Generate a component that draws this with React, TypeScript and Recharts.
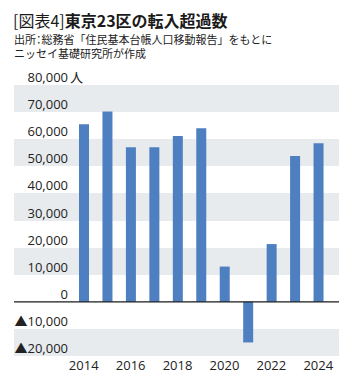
import { BarChart, Bar, XAxis, YAxis, CartesianGrid, ReferenceLine } from 'recharts';

// 東京23区の転入超過数（人）
const years = ['2014', '2015', '2016', '2017', '2018', '2019', '2020', '2021', '2022', '2023', '2024'];
const netInflow = [65500, 70200, 57000, 57000, 61200, 64000, 13000, -15000, 21300, 53800, 58500];

const yTicks = [-20000, -10000, 0, 10000, 20000, 30000, 40000, 50000, 60000, 70000, 80000];
// grey stripes behind the bars (from, to)
const bandFrom = [70000, 50000, 30000, 10000, -20000];
const bandTo = [80000, 60000, 40000, 20000, -10000];

const data = years.map((y, i) => ({ year: y, value: netInflow[i] }));

// stripe colours, top to bottom between consecutive ticks
const ticksDesc = [...yTicks].sort((a, b) => b - a);
const stripeFill = ticksDesc.map((t, i) => {
  const next = ticksDesc[i + 1];
  if (next === undefined) return 'none';
  const grey = bandFrom.some((f, j) => f === next && bandTo[j] === t);
  return grey ? '#e8ebee' : '#ffffff';
});

const NUM_FONT = '"Open Sans", "Noto Sans CJK JP", sans-serif';
const JP_FONT = '"Noto Sans CJK JP", sans-serif';

const fmt = (v: number) => (v < 0 ? '▲' + Math.abs(v).toLocaleString('en-US') : v.toLocaleString('en-US'));

const YTick = (props: any) => {
  const { y, payload } = props;
  const v = payload.value as number;
  return (
    <g>
      <text x={68} y={y - 3} textAnchor="end" fontSize={13} fontFamily={NUM_FONT} fill="#222">
        {fmt(v)}
      </text>
      {v === 80000 && (
        <text x={70} y={y - 3} textAnchor="start" fontSize={13} fontFamily={JP_FONT} fill="#222">
          人
        </text>
      )}
    </g>
  );
};

const XTick = (props: any) => {
  const { x, y, payload } = props;
  return (
    <text x={x} y={y + 13.5} textAnchor="middle" fontSize={13} fontFamily={NUM_FONT} fill="#222">
      {payload.value}
    </text>
  );
};

export default function App() {
  return (
    <div style={{ position: 'absolute', left: 0, top: 0, width: 354, height: 385, background: '#fff' }}>
      <div style={{ position: 'absolute', left: 13, top: 11, fontFamily: JP_FONT, fontSize: 16, lineHeight: '18px', color: '#1a1a1a', whiteSpace: 'nowrap' }}>
        <span style={{ fontWeight: 400 }}>[図表4]</span>
        <span style={{ fontWeight: 700 }}>東京23区の転入超過数</span>
      </div>
      <div style={{ position: 'absolute', left: 14, top: 32, fontFamily: JP_FONT, fontSize: 11, lineHeight: '14px', color: '#222', whiteSpace: 'nowrap' }}>
        出所<span style={{ fontFeatureSettings: '"palt"' }}>：</span>総務省「住民基本台帳人口移動報告」をもとに
      </div>
      <div style={{ position: 'absolute', left: 14, top: 46, fontFamily: JP_FONT, fontSize: 11, lineHeight: '14px', color: '#222', whiteSpace: 'nowrap' }}>
        ニッセイ基礎研究所が作成
      </div>
      <div style={{ position: 'absolute', left: 0, top: 0 }}>
        <BarChart width={354} height={385} data={data} margin={{ top: 85, right: 15, bottom: 9, left: 14 }}>
          <CartesianGrid vertical={false} horizontal stroke="none" horizontalFill={stripeFill} fillOpacity={1} />
          <XAxis
            dataKey="year"
            height={20}
            axisLine={false}
            tickLine={false}
            tickSize={0}
            tickMargin={0}
            interval={1}
            padding={{ left: 58, right: 9 }}
            tick={<XTick />}
          />
          <YAxis
            mirror
            width={60}
            domain={[-20000, 80000]}
            ticks={yTicks}
            axisLine={false}
            tickLine={false}
            tickSize={0}
            tickMargin={0}
            interval={0}
            tick={<YTick />}
          />
          <Bar dataKey="value" fill="#4e7fc0" barSize={10} isAnimationActive={false} />
          <ReferenceLine y={0} stroke="#1a1a1a" strokeWidth={1.2} />
        </BarChart>
      </div>
    </div>
  );
}
